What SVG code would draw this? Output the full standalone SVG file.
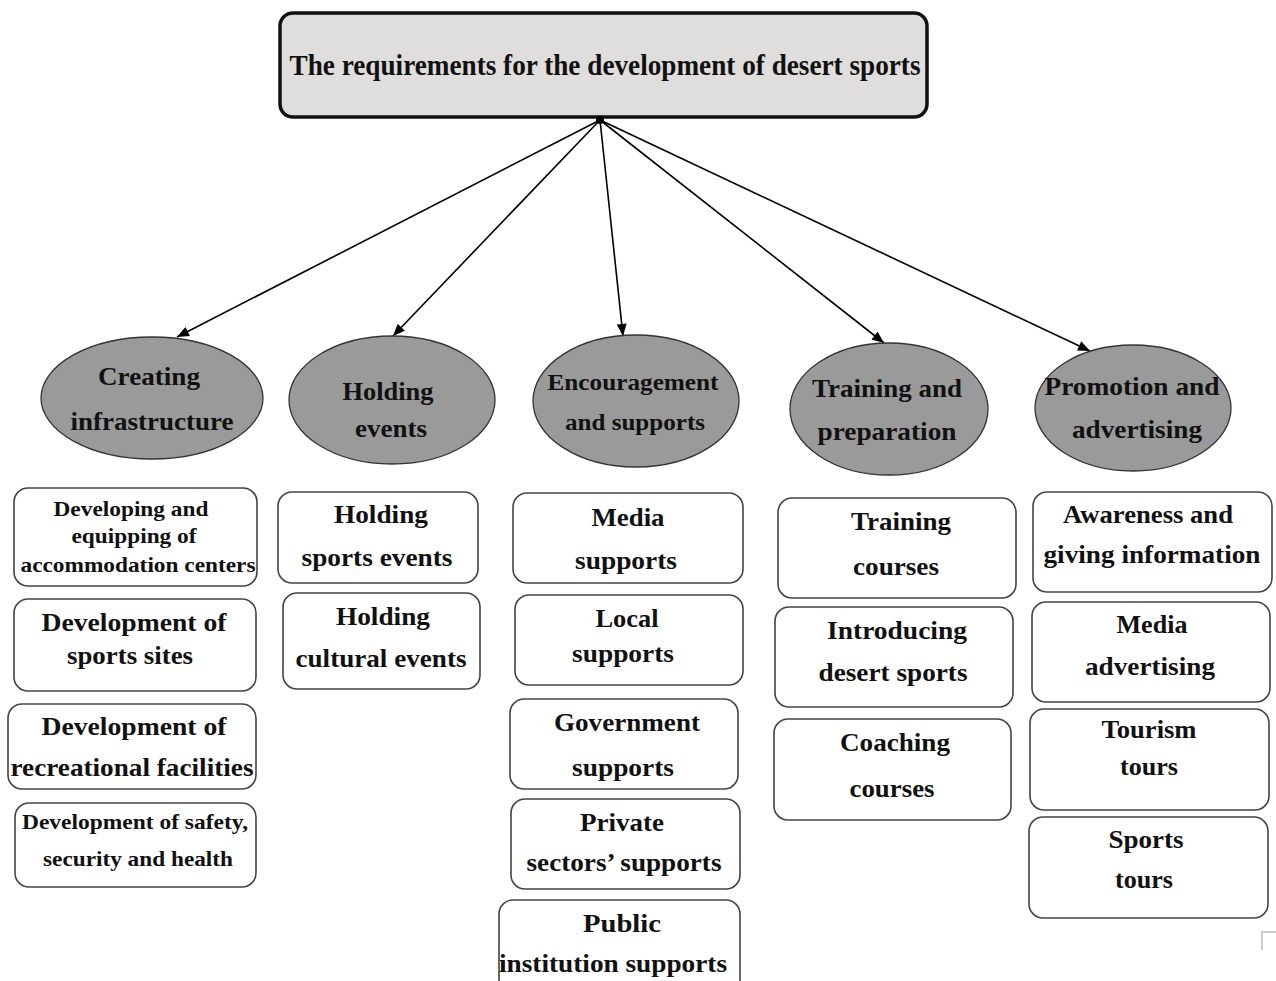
<svg xmlns="http://www.w3.org/2000/svg" width="1276" height="981" viewBox="0 0 1276 981">
<defs>
<marker id="ah" viewBox="0 0 12 10" markerWidth="13" markerHeight="10" markerUnits="userSpaceOnUse" refX="12" refY="5" orient="auto">
<path d="M0,0 L12,5 L0,10 z" fill="#000"/>
</marker>
</defs>
<style>
text{font-family:"Liberation Serif","Times New Roman",serif;font-weight:bold;fill:#111;text-anchor:middle;}
.t{font-size:29px;}
.e{font-size:25px;}
.b{font-size:25px;}
.s{font-size:21px;}
.m{font-size:24px;}
ellipse{fill:#9a9a9a;stroke:#333;stroke-width:1.3;}
.box{fill:#fff;stroke:#444;stroke-width:1.6;}
.root{fill:#e0dedc;stroke:#111;stroke-width:3.5;}
.c line{stroke:#000;stroke-width:1.6;marker-end:url(#ah);}
</style>
<rect width="1276" height="981" fill="#fff"/>
<g id="root">
<rect class="root" x="280" y="13" width="647" height="104" rx="13"/>
<text class="t" x="605" y="75" textLength="631" lengthAdjust="spacingAndGlyphs">The requirements for the development of desert sports</text>
</g>
<g class="c" id="connectors">
<circle cx="600" cy="120" r="4" fill="#000"/>
<line x1="600" y1="120" x2="177" y2="337"/>
<line x1="600" y1="120" x2="393" y2="336"/>
<line x1="600" y1="120" x2="623" y2="336"/>
<line x1="600" y1="120" x2="884" y2="343"/>
<line x1="600" y1="120" x2="1090" y2="351"/>
</g>
<g id="cat1">
<ellipse cx="152" cy="398" rx="111" ry="61"/>
<text class="e" x="149" y="385" textLength="102" lengthAdjust="spacingAndGlyphs">Creating</text>
<text class="e" x="152" y="430" textLength="163" lengthAdjust="spacingAndGlyphs">infrastructure</text>
</g>
<g id="cat2">
<ellipse cx="392" cy="400" rx="103" ry="64"/>
<text class="e" x="388" y="400" textLength="91" lengthAdjust="spacingAndGlyphs">Holding</text>
<text class="e" x="391" y="437" textLength="72" lengthAdjust="spacingAndGlyphs">events</text>
</g>
<g id="cat3">
<ellipse cx="636" cy="401" rx="103" ry="66"/>
<text class="m" x="633" y="390" textLength="171" lengthAdjust="spacingAndGlyphs">Encouragement</text>
<text class="m" x="635" y="430" textLength="140" lengthAdjust="spacingAndGlyphs">and supports</text>
</g>
<g id="cat4">
<ellipse cx="889" cy="409" rx="99" ry="66"/>
<text class="e" x="887" y="397" textLength="150" lengthAdjust="spacingAndGlyphs">Training and</text>
<text class="e" x="887" y="440" textLength="139" lengthAdjust="spacingAndGlyphs">preparation</text>
</g>
<g id="cat5">
<ellipse cx="1133" cy="408" rx="98" ry="63"/>
<text class="e" x="1132" y="395" textLength="175" lengthAdjust="spacingAndGlyphs">Promotion and</text>
<text class="e" x="1137" y="438" textLength="130" lengthAdjust="spacingAndGlyphs">advertising</text>
</g>
<g id="n1a">
<rect class="box" x="14" y="488" width="243" height="98" rx="14"/>
<text class="s" x="131" y="516" textLength="155" lengthAdjust="spacingAndGlyphs">Developing and</text>
<text class="s" x="134" y="543" textLength="125" lengthAdjust="spacingAndGlyphs">equipping of</text>
<text class="s" x="138" y="572" textLength="235" lengthAdjust="spacingAndGlyphs">accommodation centers</text>
</g>
<g id="n1b">
<rect class="box" x="14" y="599" width="242" height="92" rx="14"/>
<text class="b" x="134" y="631" textLength="185" lengthAdjust="spacingAndGlyphs">Development of</text>
<text class="b" x="130" y="664" textLength="126" lengthAdjust="spacingAndGlyphs">sports sites</text>
</g>
<g id="n1c">
<rect class="box" x="8" y="704" width="248" height="85" rx="14"/>
<text class="b" x="134" y="735" textLength="185" lengthAdjust="spacingAndGlyphs">Development of</text>
<text class="b" x="132" y="776" textLength="243" lengthAdjust="spacingAndGlyphs">recreational facilities</text>
</g>
<g id="n1d">
<rect class="box" x="15" y="803" width="241" height="84" rx="14"/>
<text class="s" x="135" y="829" textLength="226" lengthAdjust="spacingAndGlyphs">Development of safety,</text>
<text class="s" x="138" y="866" textLength="190" lengthAdjust="spacingAndGlyphs">security and health</text>
</g>
<g id="n2a">
<rect class="box" x="278" y="492" width="200" height="91" rx="14"/>
<text class="b" x="381" y="523" textLength="94" lengthAdjust="spacingAndGlyphs">Holding</text>
<text class="b" x="377" y="566" textLength="151" lengthAdjust="spacingAndGlyphs">sports events</text>
</g>
<g id="n2b">
<rect class="box" x="283" y="593" width="197" height="96" rx="14"/>
<text class="b" x="383" y="625" textLength="94" lengthAdjust="spacingAndGlyphs">Holding</text>
<text class="b" x="381" y="667" textLength="171" lengthAdjust="spacingAndGlyphs">cultural events</text>
</g>
<g id="n3a">
<rect class="box" x="513" y="493" width="230" height="90" rx="14"/>
<text class="b" x="628" y="526" textLength="73" lengthAdjust="spacingAndGlyphs">Media</text>
<text class="b" x="626" y="569" textLength="102" lengthAdjust="spacingAndGlyphs">supports</text>
</g>
<g id="n3b">
<rect class="box" x="515" y="595" width="228" height="90" rx="14"/>
<text class="b" x="627" y="627" textLength="63" lengthAdjust="spacingAndGlyphs">Local</text>
<text class="b" x="623" y="662" textLength="102" lengthAdjust="spacingAndGlyphs">supports</text>
</g>
<g id="n3c">
<rect class="box" x="510" y="699" width="228" height="90" rx="14"/>
<text class="b" x="627" y="731" textLength="146" lengthAdjust="spacingAndGlyphs">Government</text>
<text class="b" x="623" y="776" textLength="102" lengthAdjust="spacingAndGlyphs">supports</text>
</g>
<g id="n3d">
<rect class="box" x="511" y="799" width="229" height="90" rx="14"/>
<text class="b" x="622" y="831" textLength="84" lengthAdjust="spacingAndGlyphs">Private</text>
<text class="b" x="624" y="871" textLength="195" lengthAdjust="spacingAndGlyphs">sectors’ supports</text>
</g>
<g id="n3e">
<rect class="box" x="499" y="900" width="241" height="100" rx="14"/>
<text class="b" x="622" y="932" textLength="78" lengthAdjust="spacingAndGlyphs">Public</text>
<text class="b" x="613" y="972" textLength="228" lengthAdjust="spacingAndGlyphs">institution supports</text>
</g>
<g id="n4a">
<rect class="box" x="778" y="498" width="238" height="100" rx="14"/>
<text class="b" x="901" y="530" textLength="100" lengthAdjust="spacingAndGlyphs">Training</text>
<text class="b" x="896" y="575" textLength="86" lengthAdjust="spacingAndGlyphs">courses</text>
</g>
<g id="n4b">
<rect class="box" x="775" y="607" width="238" height="100" rx="14"/>
<text class="b" x="897" y="639" textLength="140" lengthAdjust="spacingAndGlyphs">Introducing</text>
<text class="b" x="893" y="681" textLength="149" lengthAdjust="spacingAndGlyphs">desert sports</text>
</g>
<g id="n4c">
<rect class="box" x="774" y="719" width="237" height="101" rx="14"/>
<text class="b" x="895" y="751" textLength="110" lengthAdjust="spacingAndGlyphs">Coaching</text>
<text class="b" x="892" y="797" textLength="85" lengthAdjust="spacingAndGlyphs">courses</text>
</g>
<g id="n5a">
<rect class="box" x="1033" y="492" width="239" height="100" rx="14"/>
<text class="b" x="1148" y="523" textLength="170" lengthAdjust="spacingAndGlyphs">Awareness and</text>
<text class="b" x="1152" y="563" textLength="217" lengthAdjust="spacingAndGlyphs">giving information</text>
</g>
<g id="n5b">
<rect class="box" x="1032" y="602" width="238" height="100" rx="14"/>
<text class="b" x="1152" y="633" textLength="71" lengthAdjust="spacingAndGlyphs">Media</text>
<text class="b" x="1150" y="675" textLength="130" lengthAdjust="spacingAndGlyphs">advertising</text>
</g>
<g id="n5c">
<rect class="box" x="1030" y="709" width="239" height="101" rx="14"/>
<text class="b" x="1149" y="738" textLength="95" lengthAdjust="spacingAndGlyphs">Tourism</text>
<text class="b" x="1149" y="775" textLength="58" lengthAdjust="spacingAndGlyphs">tours</text>
</g>
<g id="n5d">
<rect class="box" x="1029" y="817" width="239" height="101" rx="14"/>
<text class="b" x="1146" y="848" textLength="75" lengthAdjust="spacingAndGlyphs">Sports</text>
<text class="b" x="1144" y="888" textLength="58" lengthAdjust="spacingAndGlyphs">tours</text>
</g>
<path d="M1262,950 V932 H1276" fill="none" stroke="#ccc" stroke-width="2"/>
</svg>
